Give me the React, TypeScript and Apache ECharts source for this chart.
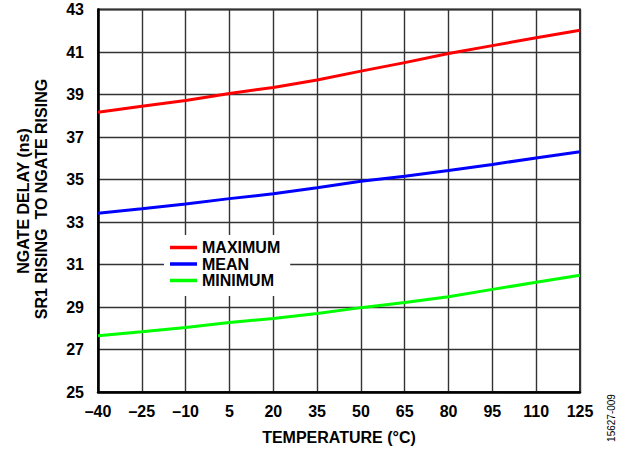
import React, { useEffect, useRef } from "react";
import * as echarts from "echarts";

const temps = [-40, -25, -10, 5, 20, 35, 50, 65, 80, 95, 110, 125];
const maximum = [38.16, 38.45, 38.72, 39.05, 39.33, 39.68, 40.1, 40.5, 40.93, 41.3, 41.67, 42.02];
const mean = [33.41, 33.62, 33.85, 34.1, 34.33, 34.61, 34.92, 35.15, 35.42, 35.71, 36.01, 36.31];
const minimum = [27.65, 27.83, 28.03, 28.27, 28.46, 28.69, 28.97, 29.21, 29.48, 29.83, 30.16, 30.49];
const seriesNames = ["MAXIMUM", "MEAN", "MINIMUM"];
const seriesColors = ["#ff0000", "#0000ff", "#00ff00"];

const X_MIN = -40;
const X_MAX = 125;
const X_STEP = 15;
const Y_MIN = 25;
const Y_MAX = 43;
const Y_STEP = 2;

const FONT = 'Arial, "Liberation Sans", Helvetica, sans-serif';
const FS = 16;

export default function App() {
  const ref = useRef<HTMLDivElement>(null);

  useEffect(() => {
    if (!ref.current) return;
    const chart = echarts.init(ref.current, undefined, { renderer: "svg" });
    const toData = (vals: number[]) =>
      temps.map((t, i) => [t - X_MIN, vals[i] - Y_MIN]);
    const allVals = [maximum, mean, minimum];

    chart.setOption({
      animation: false,
      backgroundColor: "#ffffff",
      grid: {
        left: 98,
        right: 41,
        top: 9.5,
        bottom: 60,
        show: true,
        borderColor: "#333",
        borderWidth: 2,
      },
      legend: {
        left: 164,
        top: 235,
        orient: "vertical",
        icon: "rect",
        itemWidth: 27,
        itemHeight: 3.5,
        itemGap: 0.5,
        padding: [4.5, 10, 7.5, 6],
        backgroundColor: "#ffffff",
        data: seriesNames,
        textStyle: {
          fontFamily: FONT,
          fontWeight: "bold",
          fontSize: FS,
          lineHeight: 15,
          color: "#000",
        },
      },
      xAxis: {
        type: "value",
        min: 0,
        max: X_MAX - X_MIN,
        interval: X_STEP,
        axisLine: { show: true, lineStyle: { color: "#000", width: 2.5 } },
        axisTick: { show: false },
        splitLine: { show: true, lineStyle: { color: "#333", width: 1.4 } },
        axisLabel: {
          margin: 11,
          fontFamily: FONT,
          fontWeight: "bold",
          fontSize: FS,
          color: "#000",
          formatter: (v: number) => {
            const t = v + X_MIN;
            return t < 0 ? "\u2013" + Math.abs(t) : String(t);
          },
        },
      },
      yAxis: {
        type: "value",
        min: 0,
        max: Y_MAX - Y_MIN,
        interval: Y_STEP,
        axisLine: { show: true, lineStyle: { color: "#000", width: 2.5 } },
        axisTick: { show: false },
        splitLine: { show: true, lineStyle: { color: "#333", width: 1.4 } },
        axisLabel: {
          margin: 14,
          fontFamily: FONT,
          fontWeight: "bold",
          fontSize: FS,
          color: "#000",
          formatter: (v: number) => String(v + Y_MIN),
        },
      },
      series: seriesNames.map((name, i) => ({
        name,
        type: "line",
        data: toData(allVals[i]),
        showSymbol: false,
        symbol: "none",
        lineStyle: { color: seriesColors[i], width: 3 },
        itemStyle: { color: seriesColors[i] },
        z: 3,
      })),
      graphic: [
        {
          type: "text",
          x: 23,
          y: 201,
          rotation: Math.PI / 2,
          style: {
            text: "NGATE DELAY (ns)",
            fontFamily: FONT,
            fontWeight: "bold",
            fontSize: FS,
            fill: "#000",
            align: "center",
            verticalAlign: "middle",
          },
        },
        {
          type: "text",
          x: 41,
          y: 199,
          rotation: Math.PI / 2,
          style: {
            text: "SR1 RISING  TO NGATE RISING",
            fontFamily: FONT,
            fontWeight: "bold",
            fontSize: FS,
            fill: "#000",
            align: "center",
            verticalAlign: "middle",
          },
        },
        {
          type: "text",
          x: 339,
          y: 437,
          style: {
            text: "TEMPERATURE (\u00B0C)",
            fontFamily: FONT,
            fontWeight: "bold",
            fontSize: FS,
            fill: "#000",
            align: "center",
            verticalAlign: "middle",
          },
        },
        {
          type: "text",
          x: 611,
          y: 418,
          rotation: Math.PI / 2,
          style: {
            text: "15627-009",
            fontFamily: FONT,
            fontSize: 10,
            fill: "#000",
            align: "center",
            verticalAlign: "middle",
          },
        },
      ],
    });

    return () => chart.dispose();
  }, []);

  return (
    <div
      ref={ref}
      style={{ position: "fixed", left: 0, top: 0, width: 621, height: 452, background: "#fff" }}
    />
  );
}
